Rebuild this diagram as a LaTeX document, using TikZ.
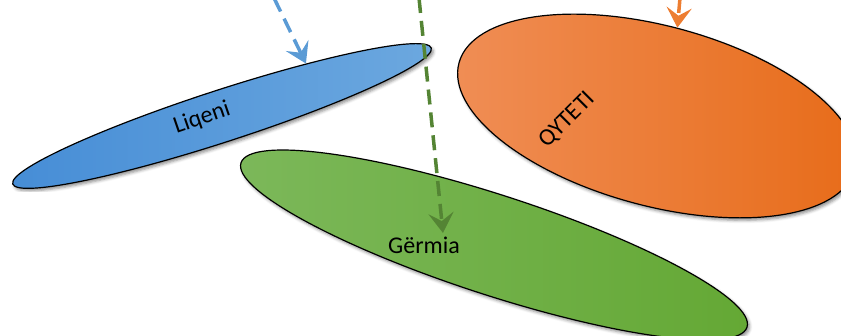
\documentclass[tikz,border=0pt]{standalone}
\usepackage{fontspec}
\setmainfont{Carlito}
\usetikzlibrary{arrows.meta,shapes.geometric,shadows.blur}

\definecolor{lakeL}{RGB}{70,141,214}
\definecolor{lakeR}{RGB}{108,168,223}
\definecolor{cityL}{RGB}{240,142,86}
\definecolor{cityR}{RGB}{231,107,24}
\definecolor{gorgeL}{RGB}{124,184,90}
\definecolor{gorgeR}{RGB}{100,168,52}
\definecolor{lakeArrow}{RGB}{91,155,213}
\definecolor{cityArrow}{RGB}{237,125,49}
\definecolor{gorgeArrow}{RGB}{84,132,52}

\begin{document}
\begin{tikzpicture}[x=1pt,y=1pt,
	region/.style={ellipse, draw=black, line width=1.2pt, inner sep=0pt,
		blur shadow={shadow xshift=2pt, shadow yshift=-2.5pt,
			shadow blur radius=3pt, shadow opacity=45}},
	tag/.style={font=\fontsize{24}{28}\selectfont, inner sep=0pt},
	flow/.style={line width=3.5pt, dash pattern=on 15pt off 8pt,
		-{Stealth[length=20pt,width=25pt,inset=8pt]}}]
	
	% page frame
	\clip (0,0) rectangle (841,336);
	
	% --- Regions ---
	\node[region, minimum width=440pt, minimum height=52pt, rotate=18,
		left color=lakeL, right color=lakeR] (lake) at (222,220) {};
	\node[region, minimum width=410pt, minimum height=180pt, rotate=-15,
		left color=cityL, right color=cityR] (city) at (657,220) {};
	\node[region, minimum width=532pt, minimum height=100pt, rotate=-18,
		left color=gorgeL, right color=gorgeR] (gorge) at (494,91) {};
	
	% --- Labels ---
	\node[tag, rotate=19] (lakename) at (202,218) {Liqeni};
	\node[tag, rotate=45] (cityname) at (567,216) {QYTETI};
	\node[tag] (gorgename) at (424,91) {Gërmia};
	
	% --- Incoming flows ---
	\coordinate (lakesrc) at (274,338);
	\coordinate (citysrc) at (680,338);
	\coordinate (gorgesrc) at (419,338);
	\coordinate (gorgetip) at (443,103);
	
	\draw[flow, lakeArrow] (lakesrc) -- (lake.14);
	\draw[flow, cityArrow] (citysrc) -- (city.92);
	\draw[flow, gorgeArrow] (gorgesrc) -- (gorgetip);
	
\end{tikzpicture}
\end{document}
